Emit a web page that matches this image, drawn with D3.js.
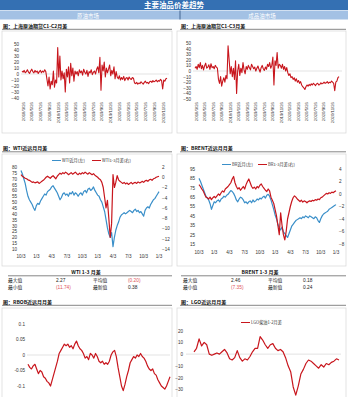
<!DOCTYPE html>
<html><head><meta charset="utf-8">
<script src="https://cdn.jsdelivr.net/npm/d3@7"></script>
<style>
body{margin:0;background:#fff;}
svg{display:block;}
text{font-family:"Liberation Sans","Noto Sans CJK SC",sans-serif;}
.cn{font-family:"Noto Sans CJK SC",sans-serif;}
</style></head><body>
<script>
// ---------- DATA ----------
const pageTitle = "主要油品价差趋势";
const sections = ["原油市场", "成品油市场"];
const chartTitles = ["图：上海原油期货C1-C2月差", "图：上海原油期货C1-C3月差",
  "图：WTI近远月月差", "图：BRENT近远月月差", "图：RBOB近远月月差", "图：LGO近远月月差"];

const scDates = ["2018/3/26","2018/5/26","2018/7/26","2018/9/26","2018/11/26","2019/1/26","2019/3/26","2019/5/26","2019/7/26","2019/9/26","2019/11/26","2020/1/26","2020/3/26","2020/5/26","2020/7/26","2020/9/26","2020/11/26"];
const scTicksL = [50,40,30,20,10,0,-10,-20,-30,-40];
const scTicksR = [50,40,30,20,10,0,-10,-20,-30,-40,-50];

const scC1C2 = [5,3,6,2,4,7,3,1,5,8,4,2,6,3,5,1,4,6,2,5,3,7,4,
  -8,-20,-5,-25,-12,-18,5,-22,-10,-15,
  44,-5,30,-10,5,
  -8,2,-30,8,-5,12,-15,18,-3,10,-12,5,
  0,4,-3,7,2,5,-2,8,3,0,6,-4,4,2,7,-1,3,5,0,8,12,2,
  28,-27,15,5,20,-5,
  10,2,8,15,-3,6,0,12,-8,4,
  -5,-8,-3,-10,-6,-9,-4,-11,-7,-6,-10,-5,-8,-9,-6,-7,
  -15,-16,-14,-17,-15,-16,-13,-15,-17,-14,-12,-15,-14,-16,-13,-12,-14,-11,-13,-12,-10,-13,-11,-12,-9,-11,
  -25,-10,-12,-8,-7];

const scC1C3 = [5,8,3,12,6,15,4,10,2,9,14,5,7,11,3,13,6,8,4,10,7,5,
  -15,-22,-10,-27,-18,-12,-20,-8,-14,
  45,20,-5,8,
  -10,5,-15,18,-40,0,12,-8,5,-3,15,2,-5,8,
  3,10,6,2,12,8,4,7,0,5,9,3,-2,6,10,4,1,7,3,12,8,15,5,10,
  25,-25,18,10,33,5,12,
  10,5,12,3,8,0,6,-3,
  -8,-5,-12,-10,-15,-12,-18,-14,-20,-17,-22,-19,-25,-28,
  -30,-33,-28,
  -25,-27,-24,-26,-23,-25,-22,-24,-26,-23,-22,-25,-24,-21,-23,-22,-20,-22,-21,-19,-22,-20,-21,-18,-20,-22,
  -35,-20,-18,-12,-10];

const quarterLabels = ["10/3","1/3","4/3","7/3","10/3","1/3","4/3","7/3","10/3","1/3"];

const wtiLeftTicks = [80,75,70,65,60,55,50,45,40,35,30,25,20,15,10];
const wtiRightTicks = [2,0,-2,-4,-6,-8,-10,-12,-14];
const wtiNear = [77,74,70,66,60,55,52,50,48,45,43,47,49,48,51,53,55,57,56,59,60,61,63,64,62,60,58,55,52,54,57,
  58,56,57,55,58,57,59,56,58,57,55,57,58,56,59,60,58,61,62,60,61,63,60,58,56,55,52,50,46,42,
  35,28,23,20,24,12,20,26,30,33,37,39,40,41,40,41,42,43,42,41,43,44,42,43,41,42,40,38,43,45,
  46,45,48,50,52,53,55,57,59];
const wtiSpread = [0.5,0.2,0,-0.2,-0.3,-0.5,-0.6,-0.8,-1,-0.9,-1.1,-1,-0.9,-1.2,-1,-0.8,-0.6,-0.3,0,0.2,0,
  -0.2,0.1,0.3,0,-0.3,0.2,0.5,0.8,0.6,0.9,0.7,1,0.8,0.5,0.7,0.9,0.6,0.8,1,0.7,0.5,0.8,0.6,0.9,0.7,
  1,0.8,0.6,0.9,0.7,0.5,0.7,0.4,0.2,0,-0.3,-0.5,-1,-2,-4,-6,-4.5,-8,-11.74,-9,0.5,-2,-1,0.3,-0.5,
  -0.8,-1,-1.2,-1,-1.3,-1.1,-1.4,-1.2,-1,-1.3,-1.1,-1,-1.2,-0.9,-1.1,-1,-0.8,-1,-0.7,-0.6,
  -0.8,-0.5,-0.4,-0.6,-0.3,-0.2,0,0.1,0.2];

const brentLeftTicks = [95,85,75,65,55,45,35,25,15];
const brentRightTicks = [4,2,0,-2,-4,-6,-8];
const brentNear = [85,82,78,74,70,66,64,62,58,52,56,60,59,61,62,60,63,64,66,65,67,68,70,72,71,69,
  66,62,60,63,65,64,62,59,60,58,60,61,59,62,60,61,63,62,64,63,65,66,64,67,68,66,62,57,52,46,
  42,36,32,30,33,28,26,24,22,26,30,34,36,38,40,41,42,43,42,44,43,45,44,43,45,44,43,42,44,43,
  40,38,42,45,47,48,49,50,52,53,54,55,56,57];
const brentSpread = [1.5,1.2,0.8,0.5,0,-0.5,-0.6,-0.8,-0.5,-0.9,-0.6,-0.4,-0.6,-0.3,0,-0.2,0.2,0.5,0.3,0.8,1,
  1.2,1.5,1.8,2.4,2.8,1.8,1.2,0.8,1,0.6,0.9,1.2,0.8,1.5,2,2.4,1.8,1.2,0.9,1.1,0.8,1.2,1,1.4,1.6,
  1.2,0.9,0.6,0.4,0.8,0.5,-0.5,-1,-1.5,-2.5,-3.5,-5,-6.5,-3,-5,-6.5,-7.35,-6,-4,-3,
  -2,-1.2,-0.6,-0.3,-0.5,-0.8,-1,-1.2,-1,-1.3,-1.1,-1.2,-1.4,-1.2,-1.1,-1.2,-1,-1.1,-0.9,-1,
  -0.8,-0.9,-0.6,-0.5,-0.3,-0.1,0.1,0,0.2,0.1,0.3,0.2,0.4,0.5];

const statRowLabels = [["最大值","平均值"],["最小值","最新值"]];
const wtiStats = [["2.27","(0.20)"],["(11.74)","0.38"]];
const brentStats = [["2.46","0.18"],["(7.35)","0.24"]];

const rbobTicks = [0.1,0.05,0,-0.05,-0.1];
const rbobTickLabels = ["0.1","0.05","0","-0.05","-0.1"];
const rbobSpread = [-0.03,-0.04,-0.045,-0.035,-0.03,-0.045,-0.06,-0.05,-0.055,-0.07,-0.075,-0.085,-0.09,-0.1,-0.08,
  -0.06,-0.04,-0.02,0.005,0.015,0.025,0.035,0.03,0.035,0.025,0.03,0.02,0.035,0.045,0.03,0.02,0.015,0.005,
  -0.01,-0.005,-0.015,0.005,0,-0.01,0.005,-0.005,-0.02,-0.025,-0.02,-0.03,-0.025,-0.03,-0.02,0,0.01,0.015,
  -0.005,-0.04,-0.07,-0.1,-0.115,-0.095,-0.07,-0.05,-0.025,-0.015,-0.005,-0.01,0,-0.005,0.005,-0.005,-0.01,
  -0.02,-0.035,-0.045,-0.05,-0.045,-0.06,-0.065,-0.08,-0.09,-0.1,-0.105,-0.11,-0.1,-0.085,-0.07];

const lgoTicks = [20,10,0,-10,-20,-30];
const lgoSpread = [2,5,13,7,10,8,0,-1,0,1,0,2,4,1,-4,-5,-3,3,-3,-6,-4,-5,-2,2,5,5,15,12,8,5,8,9,5,3,4,2,
  -3,-10,-15,-28,-35,-27,-17,-13,-8,-5,-6,-8,-10,-12,-9,-11,-8,-9,-7,-6,-4,-5];

const legendWTI = ["WTI近月(左)","WTI1-3月差(右)"];
const legendBrent = ["BR近月(左)","BR1-3月差(右)"];
const legendLGO = ["LGO柴油1-2月差"];

// ---------- DRAW ----------
const W = 348, H = 397;
const svg = d3.select("body").append("svg").attr("width", W).attr("height", H);
const RED = "#c8161d", BLUE = "#3a8fc9", TXT = "#333";

// header bars
svg.append("rect").attr("x",0).attr("y",0).attr("width",W).attr("height",10).attr("fill","#3470b3");
svg.append("text").attr("class","cn").attr("x",W/2).attr("y",8).attr("text-anchor","middle")
  .attr("font-size",7.5).attr("font-weight","bold").attr("fill","#fff").text(pageTitle);
svg.append("rect").attr("x",0).attr("y",10.5).attr("width",W).attr("height",9).attr("fill","#a3c1e4");
svg.append("line").attr("x1",180).attr("x2",180).attr("y1",10.5).attr("y2",19.5).attr("stroke","#2c4f7c").attr("stroke-width",0.8);
svg.append("text").attr("class","cn").attr("x",88).attr("y",17.5).attr("text-anchor","middle")
  .attr("font-size",5.5).attr("fill","#fff").text(sections[0]);
svg.append("text").attr("class","cn").attr("x",262).attr("y",17.5).attr("text-anchor","middle")
  .attr("font-size",5.5).attr("fill","#fff").text(sections[1]);

function sectionLabel(x, y, x2, txt){
  svg.append("text").attr("class","cn").attr("x",x).attr("y",y).attr("font-size",5)
    .attr("font-weight","bold").attr("fill","#111").text(txt);
  svg.append("line").attr("x1",x-1).attr("x2",x2).attr("y1",y+1.8).attr("y2",y+1.8)
    .attr("stroke","#333").attr("stroke-width",0.6);
}
function panel(x,y,w,h){
  svg.append("rect").attr("x",x).attr("y",y).attr("width",w).attr("height",h)
    .attr("fill","none").attr("stroke","#d6d6d6").attr("stroke-width",0.7);
}
function yAxis(scale, ticks, xPos, anchorLeft, fmt){
  const ax = (anchorLeft ? d3.axisLeft(scale) : d3.axisRight(scale)).tickValues(ticks).tickSize(0).tickPadding(0);
  if (fmt) ax.tickFormat(fmt);
  const g = svg.append("g").attr("transform",`translate(${xPos},0)`).call(ax);
  g.select(".domain").remove();
  g.selectAll("text").attr("font-size",4.6).attr("fill",TXT).attr("font-family","Liberation Serif");
  return g;
}
function line(values, xr, yScale, color, w){
  const x = d3.scaleLinear().domain([0, values.length-1]).range(xr);
  svg.append("path").datum(values).attr("fill","none").attr("stroke",color).attr("stroke-width",w)
    .attr("stroke-linejoin","round")
    .attr("d", d3.line().x((d,i)=>x(i)).y(d=>yScale(d)));
  return x;
}
function zeroGrid(y, x1, x2){
  svg.append("line").attr("x1",x1).attr("x2",x2).attr("y1",y).attr("y2",y).attr("stroke","#d0d0d0").attr("stroke-width",0.6);
}
function dateAxis(labels, xr, y){
  const x = d3.scalePoint().domain(labels.map((d,i)=>i)).range(xr);
  const g = svg.append("g");
  g.selectAll("text").data(labels).join("text")
    .attr("transform",(d,i)=>`translate(${x(i)+1.5},${y}) rotate(-90)`)
    .attr("text-anchor","end").attr("font-size",4.3).attr("fill",TXT).attr("font-family","Liberation Serif").text(d=>d);
}

// ---- Row 1 ----
sectionLabel(3, 27.5, 172, chartTitles[0]);
sectionLabel(181, 27.5, 346, chartTitles[1]);
panel(2,31,170,102); panel(177,31,169,102);
{
  const y = d3.scaleLinear().domain([-40,50]).range([98,44]);
  yAxis(y, scTicksL, 19, true);
  zeroGrid(y(0), 21, 169);
  line(scC1C2, [22,167], y, RED, 1.1);
  dateAxis(scDates, [23,163], 102);
}
{
  const y = d3.scaleLinear().domain([-50,50]).range([99,43]);
  yAxis(y, scTicksR, 191, true);
  zeroGrid(y(0), 193, 342);
  line(scC1C3, [195,339], y, RED, 1.1);
  dateAxis(scDates, [196,332], 102);
}

// ---- Row 2 ----
sectionLabel(3, 150, 172, chartTitles[2]);
sectionLabel(181, 150, 346, chartTitles[3]);
panel(2,154,170,112); panel(177,154,169,112);

function legend(items, colors, xs, y){
  items.forEach((t,i)=>{
    svg.append("line").attr("x1",xs[i]).attr("x2",xs[i]+9).attr("y1",y-1.5).attr("y2",y-1.5)
      .attr("stroke",colors[i]).attr("stroke-width",1);
    svg.append("text").attr("class","cn").attr("x",xs[i]+10).attr("y",y).attr("font-size",4.2).attr("fill",TXT).text(t);
  });
}
{
  const yl = d3.scaleLinear().domain([10,80]).range([249,167]);
  const yr = d3.scaleLinear().domain([-14,2]).range([249,167]);
  yAxis(yl, wtiLeftTicks, 17, true);
  yAxis(yr, wtiRightTicks, 162, false);
  legend(legendWTI, [BLUE, RED], [52, 92], 162);
  const xs = line(wtiNear, [21,159], yl, BLUE, 1.2);
  line(wtiSpread, [21,159], yr, RED, 1.2);
  const g = svg.append("g");
  g.selectAll("text").data(quarterLabels).join("text")
    .attr("x",(d,i)=>xs(i*11)).attr("y",258).attr("text-anchor","middle")
    .attr("font-size",4.6).attr("fill",TXT).attr("font-family","Liberation Serif").text(d=>d);
}
{
  const yl = d3.scaleLinear().domain([15,95]).range([244,169]);
  const yr = d3.scaleLinear().domain([-8,4]).range([244,169]);
  yAxis(yl, brentLeftTicks, 195, true);
  yAxis(yr, brentRightTicks, 339, false);
  legend(legendBrent, [BLUE, RED], [222, 258], 166);
  const xs = line(brentNear, [199,336], yl, BLUE, 1.2);
  line(brentSpread, [199,336], yr, RED, 1.2);
  const g = svg.append("g");
  g.selectAll("text").data(quarterLabels).join("text")
    .attr("x",(d,i)=>xs(i*11)).attr("y",254).attr("text-anchor","middle")
    .attr("font-size",4.6).attr("fill",TXT).attr("font-family","Liberation Serif").text(d=>d);
}

// ---- Stats table ----
function statTable(title, cx, x0, lineX1, lineX2, stats){
  svg.append("text").attr("class","cn").attr("x",cx).attr("y",274).attr("text-anchor","middle")
    .attr("font-size",5).attr("font-weight","bold").attr("fill","#111").text(title);
  svg.append("line").attr("x1",lineX1).attr("x2",lineX2).attr("y1",275.8).attr("y2",275.8).attr("stroke","#333").attr("stroke-width",0.6);
  const colX = [x0, x0+48, x0+85, x0+120];
  stats.forEach((row,r)=>{
    const yy = 282 + r*6.5;
    [statRowLabels[r][0], row[0], statRowLabels[r][1], row[1]].forEach((t,c)=>{
      const isVal = c===1 || c===3;
      const neg = isVal && t.startsWith("(");
      svg.append("text").attr("class", isVal ? null : "cn").attr("x",colX[c]).attr("y",yy)
        .attr("font-size",4.8).attr("fill", neg ? "#e0555a" : "#222")
        .attr("font-family", isVal ? "Liberation Serif" : null).text(t);
    });
  });
}
statTable("WTI 1-3 月差", 86, 8, 8, 172, wtiStats);
statTable("BRENT 1-3 月差", 260, 183, 181, 346, brentStats);

// ---- Row 3 ----
sectionLabel(3, 303.5, 172, chartTitles[4]);
sectionLabel(181, 303.5, 346, chartTitles[5]);
panel(2,308,170,100); panel(177,308,169,100);
{
  const y = d3.scaleLinear().domain([-0.1,0.1]).range([386,324]);
  yAxis(y, rbobTicks, 25, true, (d)=>rbobTickLabels[rbobTicks.indexOf(d)]);
  zeroGrid(y(0), 27, 170);
  line(rbobSpread, [28,170], y, RED, 1.2);
}
{
  const y = d3.scaleLinear().domain([-30,20]).range([389.3,330.7]);
  yAxis(y, lgoTicks, 183, true);
  zeroGrid(y(0), 186, 341);
  legend(legendLGO, [RED], [241], 324);
  line(lgoSpread, [194,339], y, RED, 1.2);
}
</script>
</body></html>
